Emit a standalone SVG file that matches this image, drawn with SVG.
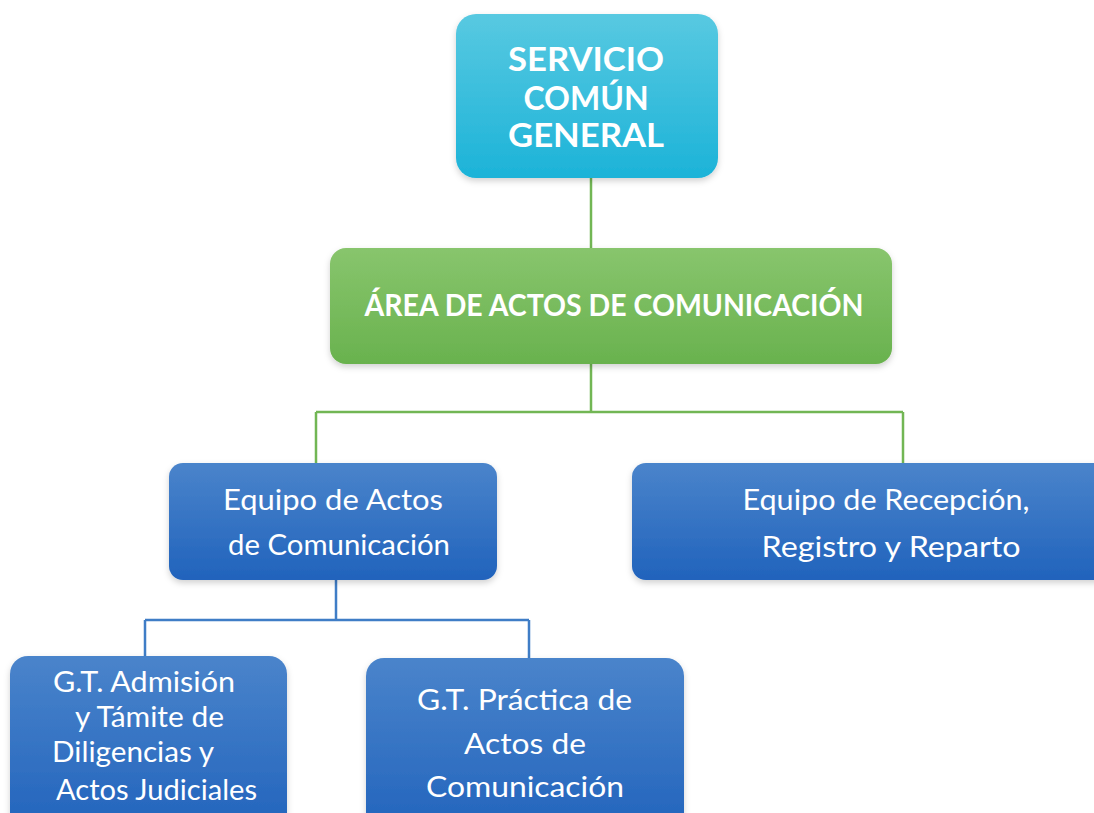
<svg xmlns="http://www.w3.org/2000/svg" width="1094" height="813" viewBox="0 0 1094 813">
<defs>
<linearGradient id="gTop" x1="0" y1="0" x2="0" y2="1"><stop offset="0" stop-color="#58C9E1"/><stop offset="1" stop-color="#1CB3D8"/></linearGradient>
<linearGradient id="gGreen" x1="0" y1="0" x2="0" y2="1"><stop offset="0" stop-color="#88C56D"/><stop offset="1" stop-color="#69B24E"/></linearGradient>
<linearGradient id="gBlue" x1="0" y1="0" x2="0" y2="1"><stop offset="0" stop-color="#4A84CB"/><stop offset="1" stop-color="#2163BC"/></linearGradient>
<filter id="sh" x="-10%" y="-10%" width="120%" height="130%"><feDropShadow dx="0" dy="3" stdDeviation="3" flood-color="#000" flood-opacity="0.18"/></filter>
<style>
.t{font-family:Lato,"Open Sans","Liberation Sans",sans-serif;fill:#fff;text-anchor:middle}
.b{font-weight:bold}
.gl{stroke:#72B654;stroke-width:2.5;fill:none}
.bl{stroke:#3F7DC6;stroke-width:2.5;fill:none}
</style>
</defs>
<rect width="1094" height="813" fill="#fff"/>
<g id="connectors">
<path class="gl" d="M591 178V248"/>
<path class="gl" d="M591 364V412M316 412H903M316 412V463M903 412V463"/>
<path class="bl" d="M336 580V620M145 620H529M145 620V656M529 620V658"/>
</g>
<g id="n-servicio">
<rect x="456" y="14" width="262" height="164" rx="20" fill="url(#gTop)" filter="url(#sh)"/>
<text class="t b" font-size="32"><tspan x="586" y="71" textLength="156" lengthAdjust="spacingAndGlyphs">SERVICIO</tspan><tspan x="586" y="110">COMÚN</tspan><tspan x="586" y="147" textLength="156" lengthAdjust="spacingAndGlyphs">GENERAL</tspan></text>
</g>
<g id="n-area">
<rect x="330" y="248" width="562" height="116" rx="16" fill="url(#gGreen)" filter="url(#sh)"/>
<text class="t b" font-size="30" x="614" y="316" textLength="499" lengthAdjust="spacingAndGlyphs">ÁREA DE ACTOS DE COMUNICACIÓN</text>
</g>
<g id="n-equipo-actos">
<rect x="169" y="463" width="328" height="117" rx="14" fill="url(#gBlue)" filter="url(#sh)"/>
<text class="t" font-size="28"><tspan x="333" y="510" textLength="220" lengthAdjust="spacingAndGlyphs">Equipo de Actos</tspan><tspan x="339" y="555" textLength="222" lengthAdjust="spacingAndGlyphs">de Comunicación</tspan></text>
</g>
<g id="n-equipo-recepcion">
<rect x="632" y="463" width="480" height="117" rx="14" fill="url(#gBlue)" filter="url(#sh)"/>
<text class="t" font-size="28"><tspan x="886" y="510" textLength="287" lengthAdjust="spacingAndGlyphs">Equipo de Recepción,</tspan><tspan x="891" y="557" textLength="259" lengthAdjust="spacingAndGlyphs">Registro y Reparto</tspan></text>
</g>
<g id="n-gt-admision">
<rect x="10" y="656" width="277" height="180" rx="18" fill="url(#gBlue)" filter="url(#sh)"/>
<text class="t" font-size="28"><tspan x="144" y="692" textLength="182" lengthAdjust="spacingAndGlyphs">G.T. Admisión</tspan><tspan x="149.5" y="727" textLength="149" lengthAdjust="spacingAndGlyphs">y Támite de</tspan><tspan x="133" y="762" textLength="162" lengthAdjust="spacingAndGlyphs">Diligencias y</tspan><tspan x="156.5" y="800" textLength="201" lengthAdjust="spacingAndGlyphs">Actos Judiciales</tspan></text>
</g>
<g id="n-gt-practica">
<rect x="366" y="658" width="318" height="180" rx="18" fill="url(#gBlue)" filter="url(#sh)"/>
<text class="t" font-size="28"><tspan x="524.5" y="710" textLength="215" lengthAdjust="spacingAndGlyphs">G.T. Práctica de</tspan><tspan x="525" y="754" textLength="122" lengthAdjust="spacingAndGlyphs">Actos de</tspan><tspan x="525" y="797" textLength="198" lengthAdjust="spacingAndGlyphs">Comunicación</tspan></text>
</g>
</svg>
